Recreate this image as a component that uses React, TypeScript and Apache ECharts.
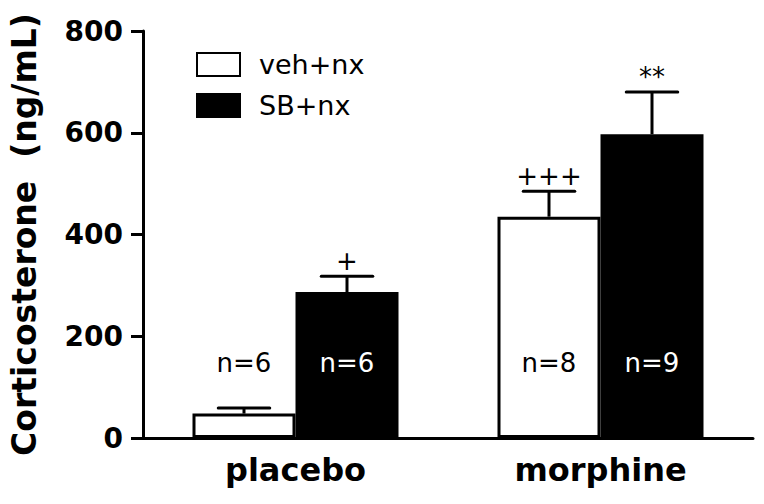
import React, { useEffect, useRef } from "react";
import * as echarts from "echarts";

const categories = ["placebo", "morphine"];
const seriesNames = ["veh+nx", "SB+nx"];
const vehMean = [48, 435];
const vehSem = [11, 50];
const sbMean = [287, 597];
const sbSem = [31, 83];
const vehN = ["n=6", "n=8"];
const sbN = ["n=6", "n=9"];
const vehSig = ["", "+++"];
const sbSig = ["+", "**"];
const nLabelLevel = 147;

const FONT = "DejaVu Sans";
const BAR_W = 103;

export default function App() {
  const ref = useRef<HTMLDivElement>(null);
  useEffect(() => {
    if (!ref.current) return;
    const chart = echarts.init(ref.current, undefined, { renderer: "svg" });

    const errData: any[] = [];
    categories.forEach((_, i) => {
      errData.push([i, vehMean[i], vehSem[i], 0, vehN[i], vehSig[i]]);
      errData.push([i, sbMean[i], sbSem[i], 1, sbN[i], sbSig[i]]);
    });

    const renderItem = (params: any, api: any) => {
      const idx = api.value(0);
      const mean = api.value(1);
      const sem = api.value(2);
      const which = api.value(3);
      const d = errData[params.dataIndex];
      const nText = d[4];
      const sig = d[5];
      const off = which === 0 ? -BAR_W / 2 : BAR_W / 2;
      const base = api.coord([idx, mean]);
      const topP = api.coord([idx, mean + sem]);
      const lab = api.coord([idx, nLabelLevel]);
      const x = base[0] + off;
      const capHalf = BAR_W / 4;
      const lineStyle = { stroke: "#000", lineWidth: 3 };
      return {
        type: "group",
        children: [
          { type: "line", shape: { x1: x, y1: base[1], x2: x, y2: topP[1] }, style: lineStyle },
          { type: "line", shape: { x1: x - capHalf, y1: topP[1], x2: x + capHalf, y2: topP[1] }, style: { ...lineStyle, lineCap: "round" } },
          {
            type: "text",
            style: {
              text: sig, x: x, y: topP[1] - 2, align: "center", verticalAlign: "bottom",
              fill: "#000", fontSize: 26, fontFamily: FONT,
            },
          },
          {
            type: "text",
            style: {
              text: nText, x: x, y: lab[1], align: "center", verticalAlign: "middle",
              fill: which === 0 ? "#000" : "#fff", fontSize: 26, fontFamily: FONT,
            },
          },
        ],
      };
    };

    chart.setOption({
      animation: false,
      backgroundColor: "#fff",
      grid: { left: 140, right: 11, top: 31, bottom: 66 },
      legend: {
        orient: "vertical",
        left: 191,
        top: 46,
        itemWidth: 43,
        itemHeight: 23,
        itemGap: 14,
        icon: "rect",
        textStyle: { fontSize: 27, fontFamily: FONT, color: "#000", padding: [0, 0, 0, 14] },
        data: seriesNames,
      },
      xAxis: {
        type: "category",
        data: categories,
        axisLine: { lineStyle: { color: "#000", width: 3 } },
        axisTick: { show: false },
        axisLabel: { color: "#000", fontSize: 32, fontWeight: "bold", fontFamily: FONT, margin: 16 },
      },
      yAxis: {
        type: "value",
        min: 0,
        max: 800,
        interval: 200,
        name: "Corticosterone  (ng/mL)",
        nameLocation: "middle",
        nameRotate: 90,
        nameGap: 102,
        nameTextStyle: { color: "#000", fontSize: 33, fontWeight: "bold", fontFamily: FONT },
        axisLine: { show: true, lineStyle: { color: "#000", width: 3 } },
        axisTick: { show: true, length: 12, lineStyle: { color: "#000", width: 3 } },
        axisLabel: { color: "#000", fontSize: 28, fontWeight: "bold", fontFamily: FONT, margin: 20 },
        splitLine: { show: false },
      },
      series: [
        {
          name: seriesNames[0],
          type: "bar",
          data: vehMean,
          barWidth: BAR_W,
          barGap: "0%",
          itemStyle: { color: "#fff", borderColor: "#000", borderWidth: 3 },
        },
        {
          name: seriesNames[1],
          type: "bar",
          data: sbMean,
          barWidth: BAR_W,
          barGap: "0%",
          itemStyle: { color: "#000", borderColor: "#000", borderWidth: 3 },
        },
        {
          type: "custom",
          renderItem,
          data: errData.map((d) => [d[0], d[1], d[2], d[3]]),
          z: 5,
          silent: true,
        },
      ],
    });
    return () => chart.dispose();
  }, []);
  return <div ref={ref} style={{ position: "fixed", left: 0, top: 0, width: 764, height: 504 }} />;
}
